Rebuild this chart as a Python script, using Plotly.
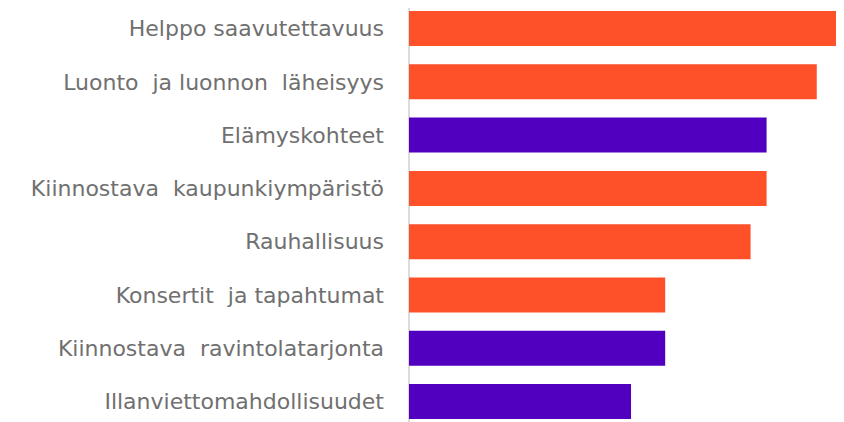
import plotly.graph_objects as go

# top-to-bottom order, as drawn
categories = [
    "Helppo saavutettavuus",
    "Luonto  ja luonnon  läheisyys",
    "Elämyskohteet",
    "Kiinnostava  kaupunkiympäristö",
    "Rauhallisuus",
    "Konsertit  ja tapahtumat",
    "Kiinnostava  ravintolatarjonta",
    "Illanviettomahdollisuudet",
]
values = [40, 38.2, 33.5, 33.5, 32, 24, 24, 20.8]
groups = ["a", "a", "b", "a", "a", "a", "b", "b"]

ORANGE = "#FF5129"
PURPLE = "#5100BF"
bar_colors = [ORANGE if g == "a" else PURPLE for g in groups]

fig = go.Figure()
fig.add_trace(go.Bar(
    x=values,
    y=categories,
    orientation="h",
    marker=dict(color=bar_colors, line=dict(width=0)),
    hoverinfo="x+y",
))

# the page body adds an 8px offset, so margins/ranges are shifted to compensate
fig.update_layout(
    width=844, height=422,
    margin=dict(l=401, r=0, t=0, b=0),
    paper_bgcolor="white",
    plot_bgcolor="white",
    bargap=0.343,
    showlegend=False,
    font=dict(family="DejaVu Sans", size=22, color="#707070"),
)
fig.update_xaxes(
    range=[0, 41.5],
    showticklabels=False,
    showgrid=False,
    zeroline=True,
    zerolinecolor="#dcdcdc",
    zerolinewidth=2,
)
fig.update_yaxes(
    type="category",
    categoryorder="array",
    categoryarray=categories,
    range=[7.534, -0.385],
    showgrid=False,
    ticks="",
    ticklabelstandoff=24,
    automargin=False,
)

fig.write_html("out.html")
